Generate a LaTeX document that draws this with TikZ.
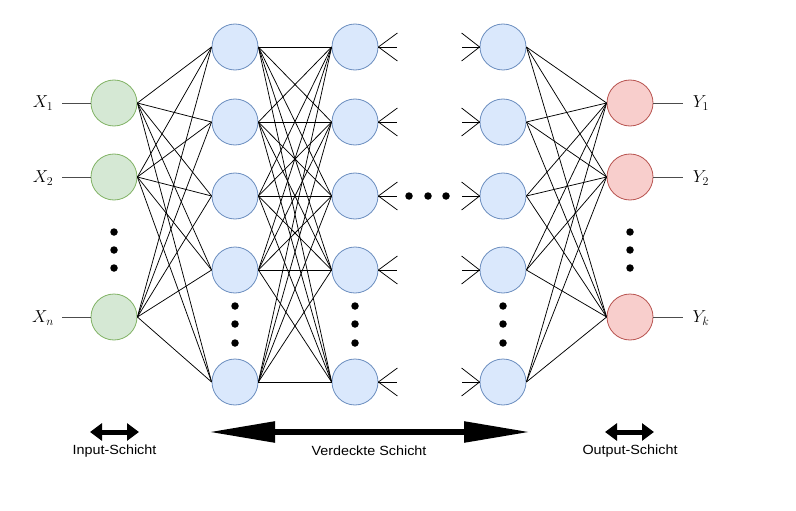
\documentclass[tikz,border=0pt]{standalone}
\usepackage{fontspec}
\setmainfont{Liberation Sans}
\usetikzlibrary{arrows.meta}
\definecolor{inF}{HTML}{D5E8D4}\definecolor{inD}{HTML}{82B366}
\definecolor{hiF}{HTML}{DAE8FC}\definecolor{hiD}{HTML}{6C8EBF}
\definecolor{ouF}{HTML}{F8CECC}\definecolor{ouD}{HTML}{B85450}
\begin{document}
\begin{tikzpicture}[x=1pt,y=-1pt,
  neuron/.style={circle,minimum size=46pt,inner sep=0pt,line width=0.8pt},
  inN/.style={neuron,fill=inF,draw=inD},
  hiN/.style={neuron,fill=hiF,draw=hiD},
  ouN/.style={neuron,fill=ouF,draw=ouD},
  conn/.style={draw=black,line width=0.75pt},
  iolink/.style={draw=black!70,line width=0.8pt},
  dotn/.style={circle,fill=black,inner sep=0pt,minimum size=7.5pt},
  varlab/.style={font=\fontsize{18.5}{22}\selectfont,inner sep=0pt},
  layerlab/.style={font=\fontsize{13.3}{15}\selectfont,inner sep=0pt},
  smallarrow/.style={line width=5pt,{Triangle[length=12pt,width=17pt]}-{Triangle[length=12pt,width=17pt]}},
  bigarrow/.style={line width=5.5pt,{Triangle[length=66pt,width=20pt]}-{Triangle[length=66pt,width=20pt]}}
]
\useasboundingbox (0,0) rectangle (796,511);
% input layer
\node[inN] (i1) at (114,103) {};
\node[inN] (i2) at (114,177) {};
\node[inN] (i3) at (114,317) {};
% hidden layers
\foreach \n/\y in {1/47,2/122,3/196,4/270,5/382}{
  \node[hiN] (ha\n) at (235,\y) {};
  \node[hiN] (hb\n) at (355,\y) {};
  \node[hiN] (hc\n) at (503,\y) {};
}
% output layer
\node[ouN] (o1) at (630,103) {};
\node[ouN] (o2) at (630,177) {};
\node[ouN] (o3) at (630,317) {};
% labels
\node[varlab] (x1) at (43,103) {$X_1$};
\node[varlab] (x2) at (43,178) {$X_2$};
\node[varlab] (x3) at (43,318) {$X_n$};
\node[varlab] (y1) at (701,103) {$Y_1$};
\node[varlab] (y2) at (701,178) {$Y_2$};
\node[varlab] (y3) at (701,318) {$Y_k$};
\foreach \k in {1,2,3}{
  \coordinate (xs\k) at (62,0 |- i\k.west);
  \draw[iolink] (xs\k) -- (i\k.west);
  \draw[iolink] (o\k.east) -- ++(30,0);
}
% connections
\foreach \a in {1,2,3}{\foreach \b in {1,...,5}{\draw[conn] (i\a.east) -- (ha\b.west);}}
\foreach \a in {1,...,5}{\foreach \b in {1,...,5}{\draw[conn] (ha\a.east) -- (hb\b.west);}}
\foreach \a in {1,...,5}{\foreach \b in {1,2,3}{\draw[conn] (hc\a.east) -- (o\b.west);}}
% stubs
\foreach \a in {1,...,5}{
  \draw[conn] (hb\a.east) -- ++(19,-14);
  \draw[conn] (hb\a.east) -- ++(19,0);
  \draw[conn] (hb\a.east) -- ++(19,14);
  \draw[conn] (hc\a.west) -- ++(-18,-14);
  \draw[conn] (hc\a.west) -- ++(-18,0);
  \draw[conn] (hc\a.west) -- ++(-18,14);
}
% dots
\foreach \y [count=\k] in {232,250,268}{
  \node[dotn] (di\k) at (114,\y) {};
  \node[dotn] (do\k) at (630,\y) {};
}
\foreach \y [count=\k] in {306,324,343}{
  \node[dotn] (da\k) at (235,\y) {};
  \node[dotn] (db\k) at (355,\y) {};
  \node[dotn] (dc\k) at (503,\y) {};
}
\foreach \x [count=\k] in {409,428,446}{\node[dotn] (dm\k) at (\x,196) {};}
% bottom arrows
\coordinate (ia) at (90,432); \coordinate (ib) at (139,432);
\coordinate (ha) at (209,432); \coordinate (hb) at (530,432);
\coordinate (oa) at (605,432); \coordinate (ob) at (654,432);
\draw[smallarrow] (ia) -- (ib);
\draw[bigarrow] (ha) -- (hb);
\draw[smallarrow] (oa) -- (ob);
\node[layerlab] (li) at (114.5,451) {\scalebox{1.08}[1]{Input-Schicht}};
\node[layerlab] (lh) at (369,451) {\scalebox{1.08}[1]{Verdeckte Schicht}};
\node[layerlab] (lo) at (630,451) {\scalebox{1.08}[1]{Output-Schicht}};
\end{tikzpicture}
\end{document}
